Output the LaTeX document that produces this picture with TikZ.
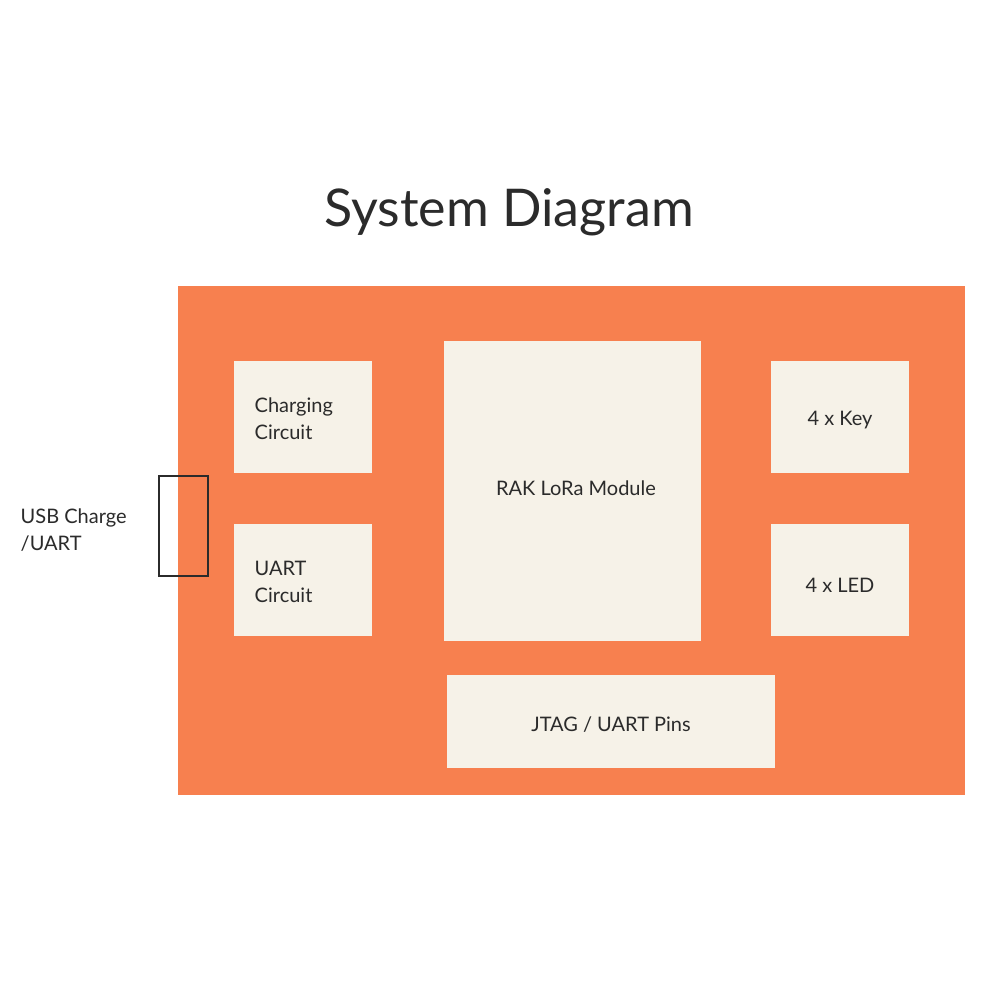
\documentclass[tikz,border=0pt]{standalone}
\usepackage{fontspec}
\setmainfont{Lato}
\definecolor{board}{HTML}{F7804F}
\definecolor{cream}{HTML}{F6F2E8}
\definecolor{ink}{HTML}{2B2B2B}
\begin{document}
\begin{tikzpicture}[x=0.75pt,y=-0.75pt,
  blk/.style={fill=cream,draw=none},
  lbl/.style={text=ink,font=\fontsize{15}{20}\selectfont,align=left,anchor=west}]
\useasboundingbox (0,0) rectangle (1000,1000);
\fill[white] (0,0) rectangle (1000,1000);
\node[text=ink,font=\fontsize{39}{44}\selectfont] (title) at (509,212) {System Diagram};
\fill[board] (178,286) rectangle (965,795);
\fill[blk] (234,361) rectangle (372,473);
\node[lbl] (chg) at (250,419) {Charging\\Circuit};
\fill[blk] (234,524) rectangle (372,636);
\node[lbl] (uart) at (250,582) {UART\\Circuit};
\fill[blk] (444,341) rectangle (701,641);
\node[text=ink,font=\fontsize{15}{20}\selectfont] (rak) at (576,488) {RAK LoRa Module};
\fill[blk] (771,361) rectangle (909,473);
\node[text=ink,font=\fontsize{15}{20}\selectfont] (key) at (840,420) {4 x Key};
\fill[blk] (771,524) rectangle (909,636);
\node[text=ink,font=\fontsize{15}{20}\selectfont] (led) at (840,585) {4 x LED};
\fill[blk] (447,675) rectangle (775,768);
\node[text=ink,font=\fontsize{15}{20}\selectfont] (jtag) at (611,725) {JTAG / UART Pins};
\draw[ink,line width=1.5pt] (159,476) rectangle (208,576);
\node[lbl] (usb) at (16,530) {USB Charge\\/UART};
\end{tikzpicture}
\end{document}
